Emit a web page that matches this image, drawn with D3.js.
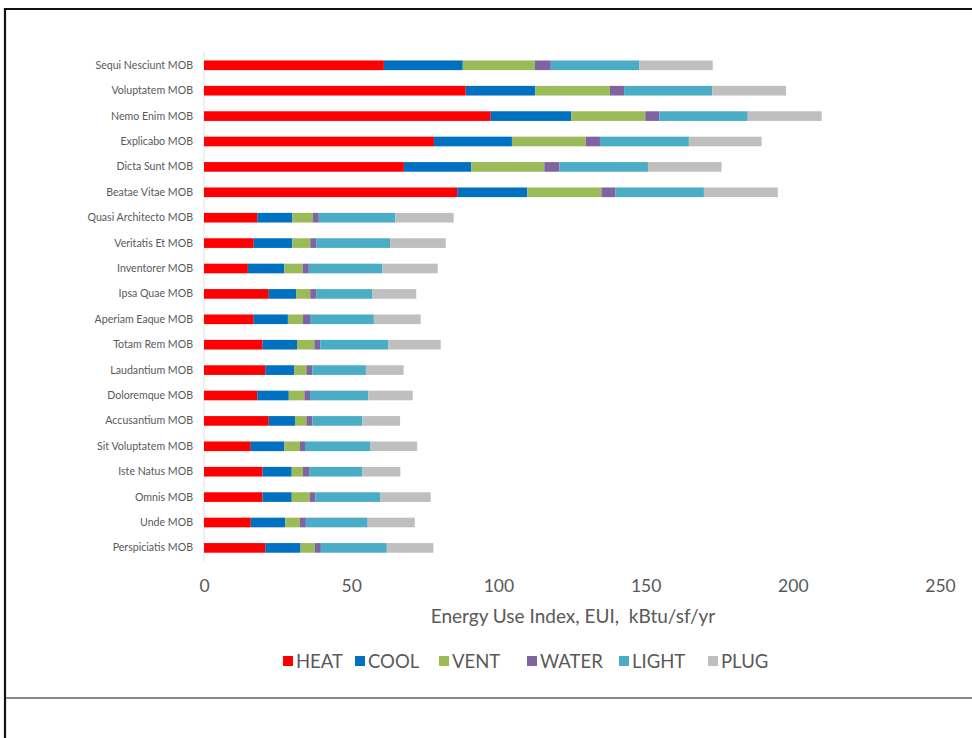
<!DOCTYPE html>
<html>
<head>
<meta charset="utf-8">
<script src="https://cdn.jsdelivr.net/npm/d3@7"></script>
<style>
  html, body { margin: 0; padding: 0; background: #ffffff; }
  svg { display: block; }
</style>
</head>
<body>
<svg id="chart" width="972" height="738"></svg>
<script>
const categories = [
  "Sequi Nesciunt MOB", "Voluptatem MOB", "Nemo Enim MOB", "Explicabo MOB",
  "Dicta Sunt MOB", "Beatae Vitae MOB", "Quasi Architecto MOB", "Veritatis Et MOB",
  "Inventorer MOB", "Ipsa Quae MOB", "Aperiam Eaque MOB", "Totam Rem MOB",
  "Laudantium MOB", "Doloremque MOB", "Accusantium MOB", "Sit Voluptatem MOB",
  "Iste Natus MOB", "Omnis MOB", "Unde MOB", "Perspiciatis MOB"
];
const seriesNames = ["HEAT", "COOL", "VENT", "WATER", "LIGHT", "PLUG"];
const heat  = [61.1, 88.9, 97.4, 78.1, 67.9, 86.0, 18.1, 16.9, 14.9, 22.0, 16.9, 19.9, 20.8, 18.1, 22.0, 15.9, 19.9, 19.9, 15.9, 20.8];
const cool  = [26.8, 23.6, 27.3, 26.5, 22.9, 23.8, 11.9, 13.1, 12.4,  9.3, 11.6, 11.7,  9.8, 10.7,  8.9, 11.4,  9.9,  9.9, 11.7, 12.0];
const vent  = [24.5, 25.4, 25.2, 25.1, 24.8, 25.2,  7.0,  6.1,  6.2,  4.8,  5.1,  5.9,  4.2,  5.3,  3.9,  5.3,  3.8,  6.1,  5.0,  4.9];
const water = [ 5.4,  4.8,  4.8,  4.8,  5.1,  4.8,  2.0,  2.0,  2.1,  2.0,  2.4,  2.0,  2.0,  1.9,  2.0,  1.7,  2.1,  1.9,  2.0,  2.0];
const light = [30.0, 29.9, 30.0, 30.2, 30.1, 30.0, 26.0, 25.1, 25.0, 19.0, 21.7, 23.1, 18.2, 19.8, 17.0, 22.1, 18.1, 22.1, 21.0, 22.4];
const plug  = [25.0, 25.1, 25.1, 24.7, 25.0, 25.1, 19.8, 18.9, 18.8, 15.0, 15.9, 17.8, 12.8, 15.1, 12.8, 16.0, 12.9, 17.1, 16.0, 15.8];
const xTicks = [0, 50, 100, 150, 200, 250];
const colors = ["#ff0000", "#0070c0", "#9bbb59", "#8064a2", "#4bacc6", "#bfbfbf"];
const axisTitle = "Energy Use Index, EUI,  kBtu/sf/yr";

const seriesArrays = [heat, cool, vent, water, light, plug];
const rows = categories.map((c, i) => {
  const r = { name: c };
  seriesNames.forEach((s, k) => { r[s] = seriesArrays[k][i]; });
  return r;
});

const svg = d3.select("#chart");
const font = "Lato, 'Open Sans', sans-serif";
const textColor = "#595959";

// frame lines (picture border)
svg.append("line").attr("x1", 5).attr("x2", 972).attr("y1", 9).attr("y2", 9)
  .attr("stroke", "#111").attr("stroke-width", 2.2);
svg.append("line").attr("x1", 5).attr("x2", 5).attr("y1", 8).attr("y2", 738)
  .attr("stroke", "#111").attr("stroke-width", 2.2);
svg.append("line").attr("x1", 6).attr("x2", 972).attr("y1", 698).attr("y2", 698)
  .attr("stroke", "#8a8a8a").attr("stroke-width", 2);

const x = d3.scaleLinear().domain([0, 250]).range([204, 940]);
const y = d3.scaleBand().domain(categories).range([52.6, 560.6])
  .paddingInner(0.62).paddingOuter(0.31);

// vertical axis line
svg.append("line").attr("x1", x(0)).attr("x2", x(0)).attr("y1", 52).attr("y2", 561)
  .attr("stroke", "#e0e0e0").attr("stroke-width", 1);

const stack = d3.stack().keys(seriesNames);
const stacked = stack(rows);

svg.append("g").selectAll("g").data(stacked).join("g")
  .attr("fill", (d, i) => colors[i])
  .selectAll("rect").data(d => d).join("rect")
  .attr("x", d => x(d[0]))
  .attr("width", d => x(d[1]) - x(d[0]))
  .attr("y", d => y(d.data.name))
  .attr("height", y.bandwidth());

// y axis labels
const yAxis = d3.axisLeft(y).tickSize(0).tickPadding(11);
const yg = svg.append("g").attr("transform", `translate(${x(0)},0)`).call(yAxis);
yg.select(".domain").remove();
yg.selectAll("text").attr("font-family", font).attr("font-size", 10.6).attr("fill", textColor);

// x axis labels
const xAxis = d3.axisBottom(x).tickValues(xTicks).tickSize(0).tickPadding(0);
const xg = svg.append("g").attr("transform", `translate(0,580)`).call(xAxis);
xg.select(".domain").remove();
xg.selectAll("text").attr("font-family", font).attr("font-size", 17.5).attr("fill", textColor);

svg.append("text").attr("x", 573).attr("y", 623).attr("text-anchor", "middle")
  .attr("font-family", font).attr("font-size", 19).attr("fill", textColor)
  .attr("xml:space", "preserve").style("white-space", "pre")
  .text(axisTitle);

// legend
const legendX = [283, 355, 439, 527, 619, 708];
const lg = svg.append("g");
seriesNames.forEach((s, i) => {
  const g = lg.append("g").attr("transform", `translate(${legendX[i]},661)`);
  g.append("rect").attr("x", 0).attr("y", -5).attr("width", 10).attr("height", 10).attr("fill", colors[i]);
  g.append("text").attr("x", 13).attr("y", 6.5).attr("font-family", font).attr("font-size", 18.5)
    .attr("fill", textColor).text(s);
});
</script>
</body>
</html>
